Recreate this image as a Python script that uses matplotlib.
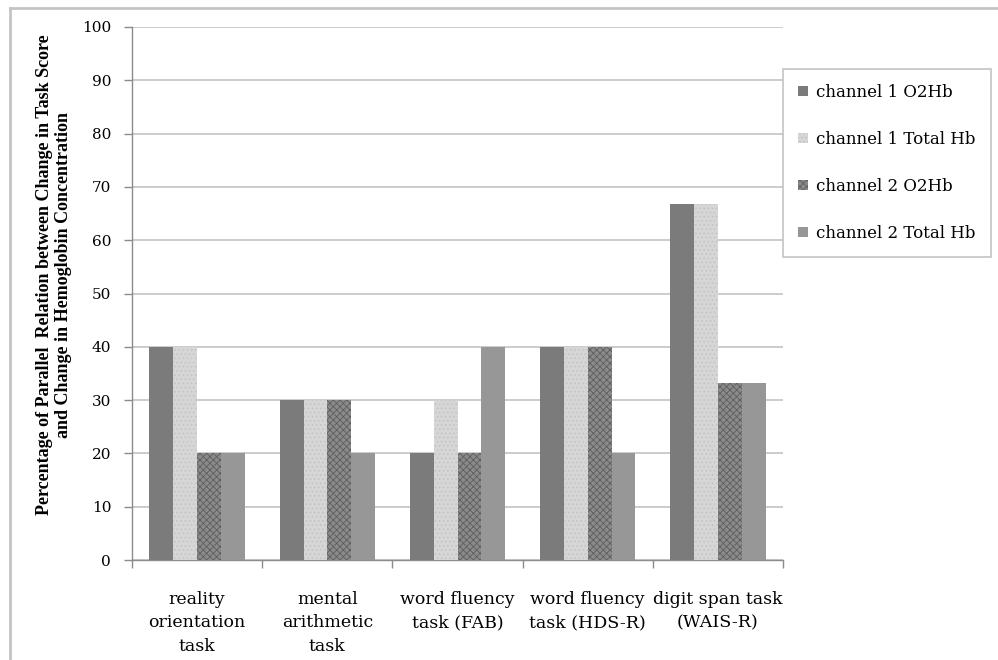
import numpy as np
import matplotlib.pyplot as plt
from matplotlib.lines import Line2D

# Tasks and the percentage of parallel relations per channel / measure
tasks = ["reality\norientation\ntask", "mental\narithmetic\ntask",
         "word fluency\ntask (FAB)", "word fluency\ntask (HDS-R)",
         "digit span task\n(WAIS-R)"]
ch1_o2hb = [40, 30, 20, 40, 66.7]
ch1_total = [40, 30, 30, 40, 66.7]
ch2_o2hb = [20, 30, 20, 40, 33.3]
ch2_total = [20, 20, 40, 20, 33.3]
series_names = ["channel 1 O2Hb", "channel 1 Total Hb", "channel 2 O2Hb", "channel 2 Total Hb"]

plt.rcParams['hatch.linewidth'] = 0.6
serif = ['DejaVu Serif']

fig = plt.figure(figsize=(9.98, 6.6), dpi=100)
ax = fig.add_axes([0.1323, 0.1515, 0.6523, 0.8076])

x = np.arange(len(tasks))
w = 0.183
styles = [
    dict(color='#7b7b7b'),
    dict(color='#d6d6d6', hatch='....', edgecolor='#c2c2c2', linewidth=0),
    dict(color='#8a8a8a', hatch='xxxxx', edgecolor='#5e5e5e', linewidth=0),
    dict(color='#979797'),
]
bars = []
for i, (vals, st) in enumerate(zip([ch1_o2hb, ch1_total, ch2_o2hb, ch2_total], styles)):
    b = ax.bar(x + (i - 1.5) * w, vals, w, zorder=3, label=series_names[i], **st)
    bars.append(b)

ax.set_xlim(-0.5, len(tasks) - 0.5)
ax.set_ylim(0, 100)
ax.set_yticks(np.arange(0, 101, 10))
ax.yaxis.grid(True, color='#c8c8c8', linewidth=1.3, zorder=0)
ax.set_axisbelow(True)

ax.set_xticks(x)
ax.set_xticklabels(tasks, fontsize=12.5, family=serif, linespacing=1.5, va='top')
ax.set_xticks(np.arange(-0.5, len(tasks)), minor=True)
ax.tick_params(axis='x', which='major', length=0, pad=22)
ax.tick_params(axis='x', which='minor', length=6, color='#8c8c8c', width=1)
ax.tick_params(axis='y', length=6, color='#8c8c8c', width=1, pad=9, labelsize=11)
for t in ax.get_yticklabels():
    t.set_family(serif)

for s in ['top', 'right']:
    ax.spines[s].set_visible(False)
for s in ['left', 'bottom']:
    ax.spines[s].set_color('#8c8c8c')
    ax.spines[s].set_linewidth(1)

fig.text(54 / 998, 1 - 275 / 660,
         "Percentage of Parallel  Relation between Change in Task Score\nand Change in Hemoglobin Concentration",
         fontsize=13, family=['Liberation Serif'], fontweight='bold',
         linespacing=1.1, rotation=90, ha='center', va='center', multialignment='center')

leg = fig.legend(handles=bars, loc='upper left', bbox_to_anchor=(0.7846, 0.8955),
                 borderaxespad=0, frameon=True, fancybox=False, handlelength=0.6,
                 handleheight=0.6, handletextpad=0.5, labelspacing=1.8,
                 borderpad=0.9, prop={'family': serif, 'size': 12})
leg.get_frame().set_edgecolor('#b4b4b4')
leg.get_frame().set_linewidth(1.2)

# thin frame along the top and left edge of the figure
fig.add_artist(Line2D([10 / 998, 1], [1 - 8 / 660, 1 - 8 / 660], color='#c4c4c4', lw=2,
                      transform=fig.transFigure))
fig.add_artist(Line2D([10 / 998, 10 / 998], [0, 1 - 8 / 660], color='#c4c4c4', lw=2,
                      transform=fig.transFigure))

fig.savefig("out.png", dpi=100)
